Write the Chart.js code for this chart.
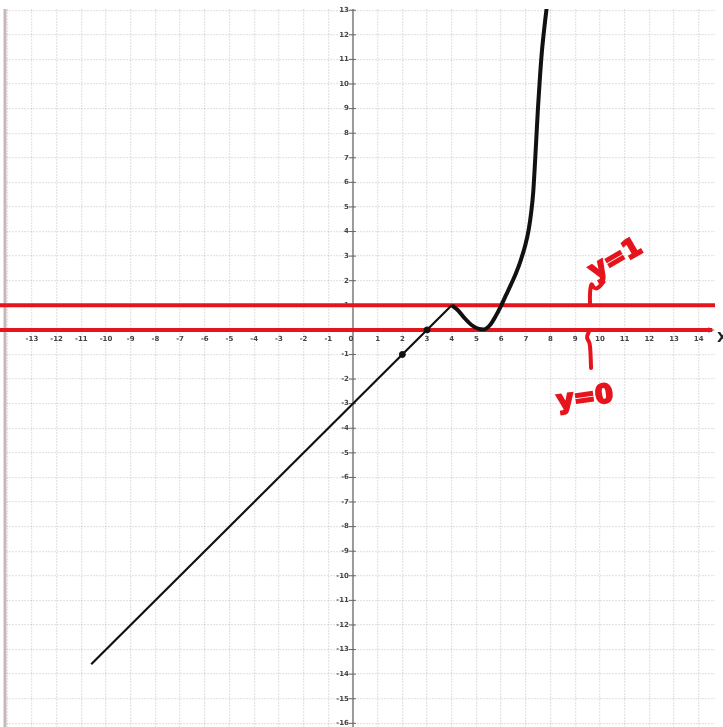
<!DOCTYPE html>
<html>
<head>
<meta charset="utf-8">
<script src="https://cdn.jsdelivr.net/npm/chart.js@4"></script>
<style>
  html, body { margin: 0; padding: 0; background: #fff; overflow: hidden; }
  #plot { display: block; }
</style>
</head>
<body>
<!-- 5px a mais: o eixo x ainda reserva esse espaço embaixo -->
<canvas id="plot" width="723" height="732"></canvas>
<script>
// Janela do gráfico
const xMin = -14.05, xMax = 14.66;
const yMin = -16.15, yMax = 13.05;

// Rótulos dos eixos
const xTickValues = [-13, -12, -11, -10, -9, -8, -7, -6, -5, -4, -3, -2, -1, 0, 1, 2, 3, 4, 5, 6, 7, 8, 9, 10, 11, 12, 13, 14];
const yTickValues = [13, 12, 11, 10, 9, 8, 7, 6, 5, 4, 3, 2, 1, -1, -2, -3, -4, -5, -6, -7, -8, -9, -10, -11, -12, -13, -14, -15, -16];

// Reta y = x - 3 até x = 4
const lineX = [-10.6, 4];
const lineY = [-13.6, 1];

// Parte curva depois de x = 4
const curveX = [4, 4.25, 4.5, 4.8, 5.1, 5.3, 5.55, 5.8, 5.98, 6.2, 6.4, 6.6, 6.8, 6.98, 7.12, 7.22, 7.3, 7.36, 7.42, 7.49, 7.56, 7.64, 7.74, 7.88];
const curveY = [1, 0.8, 0.5, 0.2, 0.04, 0.02, 0.2, 0.6, 0.95, 1.42, 1.85, 2.3, 2.85, 3.45, 4.1, 4.8, 5.6, 6.6, 7.7, 9.0, 10.1, 11.2, 12.2, 13.4];

// Pontos marcados
const dotX = [2, 3];
const dotY = [-1, 0];

// Retas horizontais y = 1 e y = 0
const hLineY = [1, 0];
const hLineFrom = [-14.3, -14.3];
const hLineTo = [14.66, 14.55];

// Chaves desenhadas à mão
const braceTopX = [9.6, 9.6, 9.66, 9.76, 9.9, 10.15];
const braceTopY = [1, 1.5, 1.85, 1.72, 1.7, 1.95];
const braceBottomX = [9.55, 9.48, 9.58, 9.62, 9.64];
const braceBottomY = [-0.08, -0.3, -0.55, -1.0, -1.55];

// Anotações
const notes = ['y=1', 'y=0'];
const noteX = [10.65, 9.4];
const noteY = [2.85, -2.8];
const noteAngle = [-30, -8];

const RED = '#e5141d';

const pts = (xs, ys) => xs.map((x, i) => ({ x, y: ys[i] }));

// Eixos, rótulos e borda
const axesPlugin = {
    id: 'axesPlugin',
    beforeDatasetsDraw(chart) {
        const { ctx, chartArea: a, scales: { x, y } } = chart;
        const x0 = x.getPixelForValue(0);
        const y0 = y.getPixelForValue(0);
        ctx.save();

        // borda esquerda
        ctx.strokeStyle = '#c7b7bb';
        ctx.lineWidth = 3;
        ctx.beginPath();
        ctx.moveTo(a.left - 1, a.top);
        ctx.lineTo(a.left - 1, a.bottom);
        ctx.stroke();

        // eixos
        ctx.strokeStyle = '#9a9a9a';
        ctx.lineWidth = 2;
        ctx.beginPath();
        ctx.moveTo(x0, a.top);
        ctx.lineTo(x0, a.bottom);
        ctx.moveTo(a.left, y0);
        ctx.lineTo(a.right - 4, y0);
        ctx.stroke();

        // seta do eixo x
        ctx.fillStyle = '#9a9a9a';
        ctx.beginPath();
        ctx.moveTo(a.right, y0);
        ctx.lineTo(a.right - 7, y0 - 3);
        ctx.lineTo(a.right - 7, y0 + 3);
        ctx.closePath();
        ctx.fill();

        ctx.font = 'bold 7px "DejaVu Sans"';
        ctx.fillStyle = '#444';

        ctx.textAlign = 'center';
        ctx.textBaseline = 'middle';
        xTickValues.forEach(v => {
            const px = x.getPixelForValue(v) - (v === 0 ? 2 : 0);
            ctx.fillText(String(v), px, y0 + 9);
        });

        ctx.textAlign = 'right';
        yTickValues.forEach(v => {
            const py = y.getPixelForValue(v);
            ctx.fillText(String(v), x0 - 4, py);
            ctx.strokeStyle = '#666';
            ctx.lineWidth = 1;
            ctx.beginPath();
            ctx.moveTo(x0 - 4, py);
            ctx.lineTo(x0 + 3, py);
            ctx.stroke();
        });

        ctx.restore();
    },
    afterDatasetsDraw(chart) {
        const { ctx, chartArea: a, scales: { x, y } } = chart;
        ctx.save();

        // rótulo do eixo x
        ctx.font = 'bold 14px "DejaVu Sans"';
        ctx.fillStyle = '#222';
        ctx.textAlign = 'left';
        ctx.textBaseline = 'middle';
        ctx.fillText('X', a.right + 2, y.getPixelForValue(0) + 8);

        // anotações em vermelho
        ctx.font = 'bold 26px "DejaVu Sans"';
        ctx.fillStyle = RED;
        ctx.strokeStyle = RED;
        ctx.lineWidth = 2;
        ctx.textAlign = 'center';
        notes.forEach((t, i) => {
            ctx.save();
            ctx.translate(x.getPixelForValue(noteX[i]), y.getPixelForValue(noteY[i]));
            ctx.rotate(noteAngle[i] * Math.PI / 180);
            ctx.fillText(t, 0, 0);
            ctx.strokeText(t, 0, 0);
            ctx.restore();
        });
        ctx.restore();
    }
};

const hLineSets = hLineY.map((v, i) => ({
    data: [{ x: hLineFrom[i], y: v }, { x: hLineTo[i], y: v }],
    showLine: true,
    borderColor: RED,
    borderWidth: 4,
    pointRadius: 0,
    clip: false
}));

const braceSet = (xs, ys) => ({
    data: pts(xs, ys),
    showLine: true,
    borderColor: RED,
    borderWidth: 4,
    borderCapStyle: 'round',
    pointRadius: 0,
    tension: 0.4
});

new Chart(document.getElementById('plot'), {
    type: 'scatter',
    data: {
        datasets: [
            {
                data: pts(lineX, lineY),
                showLine: true,
                borderColor: '#111',
                borderWidth: 2.2,
                pointRadius: 0
            },
            {
                data: pts(curveX, curveY),
                showLine: true,
                borderColor: '#111',
                borderWidth: 4,
                pointRadius: 0,
                cubicInterpolationMode: 'monotone'
            },
            {
                data: pts(dotX, dotY),
                backgroundColor: '#111',
                borderColor: '#111',
                pointRadius: 3
            },
            ...hLineSets,
            braceSet(braceTopX, braceTopY),
            braceSet(braceBottomX, braceBottomY)
        ]
    },
    options: {
        responsive: false,
        animation: false,
        layout: { padding: { left: 6, right: 8, top: 9, bottom: 0 } },
        plugins: {
            legend: { display: false },
            tooltip: { enabled: false }
        },
        scales: {
            x: {
                type: 'linear',
                min: xMin,
                max: xMax,
                ticks: { display: false, stepSize: 1, includeBounds: false },
                grid: { color: 'rgba(0,0,0,0.1)', lineWidth: 1.3, drawTicks: false },
                border: { display: false, dash: [2, 1] },
                afterFit: s => { s.height = 0; }
            },
            y: {
                type: 'linear',
                min: yMin,
                max: yMax,
                ticks: { display: false, stepSize: 1, includeBounds: false },
                grid: { color: 'rgba(0,0,0,0.1)', lineWidth: 1.3, drawTicks: false },
                border: { display: false, dash: [2, 1] },
                afterFit: s => { s.width = 0; }
            }
        }
    },
    plugins: [axesPlugin]
});
</script>
</body>
</html>
